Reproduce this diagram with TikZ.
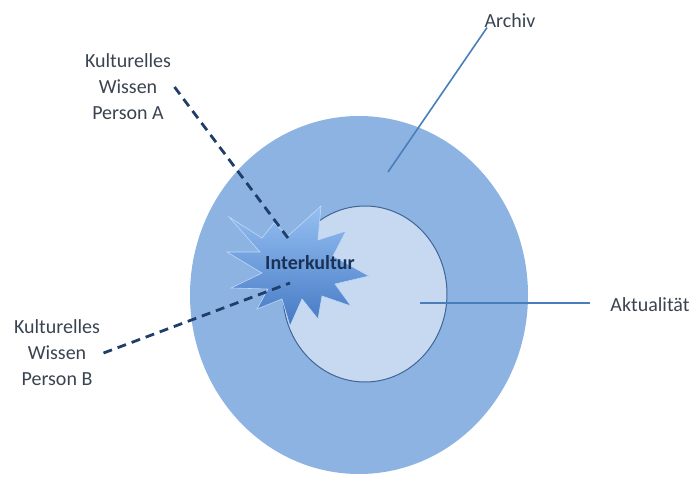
\documentclass[tikz,border=0pt]{standalone}
\usepackage{fontspec}
\setmainfont{Carlito}
\usetikzlibrary{positioning}

\definecolor{archivblue}{HTML}{8DB3E2}
\definecolor{aktblue}{HTML}{C6D9F1}
\definecolor{rimblue}{HTML}{3F6595}
\definecolor{leaderblue}{HTML}{4A7EBB}
\definecolor{dashnavy}{HTML}{1F3F6A}
\definecolor{labelgray}{HTML}{3A4350}
\definecolor{burstlight}{HTML}{96C0F2}
\definecolor{burstdark}{HTML}{4579C4}

\begin{document}
\begin{tikzpicture}[x=1pt,y=-1pt,
                    label/.style={align=center,text=labelgray,font=\fontsize{20}{26}\selectfont},
                    leader/.style={draw=leaderblue,line width=1.6pt},
                    dashline/.style={draw=dashnavy,line width=2.8pt,dash pattern=on 9pt off 6pt}]

\useasboundingbox (0,0) rectangle (696,479);

% circles
\fill[archivblue] (359,295) ellipse [x radius=169, y radius=179];
\filldraw[fill=aktblue,draw=rimblue,line width=1pt] (365,294) ellipse [x radius=82, y radius=88];

% interkultur burst
\shade[top color=burstlight,bottom color=burstdark,draw=burstlight!60!white,line width=0.6pt]
  (229,217) -- (262,238) -- (274,223) -- (288,236) -- (321,206) -- (318,240)
  -- (346,231) -- (333,256) -- (369,276) -- (335,284) -- (351,306) -- (322,296)
  -- (318,319) -- (302,299) -- (290,326) -- (282,299) -- (257,309) -- (268,289)
  -- (231,288) -- (262,273) -- (227,252) -- (260,252) -- cycle;

% labels
\node[label] (personA) at (128,87) {Kulturelles\\Wissen\\Person A};
\node[label] (personB) at (57,353) {Kulturelles\\Wissen\\Person B};
\node[label] (archivlbl) at (510,21) {Archiv};
\node[label] (aktlbl) at (650,305) {Aktualit\"at};

\coordinate (archivpt) at (388,172);
\coordinate (aktpt) at (420,303);
\coordinate (tipA) at (288,238);
\coordinate (tipB) at (290,283);

% connectors
\draw[leader] (archivpt) -- ([xshift=6pt,yshift=4pt]archivlbl.south west);
\draw[leader,shorten >=17pt] (aktpt) -- (aktpt -| aktlbl.west);
\draw[dashline] (personA.east) -- (tipA);
\draw[dashline] (personB.east) -- (tipB);

\node[font=\bfseries\fontsize{20}{24}\selectfont,text=dashnavy!80!black] (inter) at (310,263) {Interkultur};

\end{tikzpicture}
\end{document}
